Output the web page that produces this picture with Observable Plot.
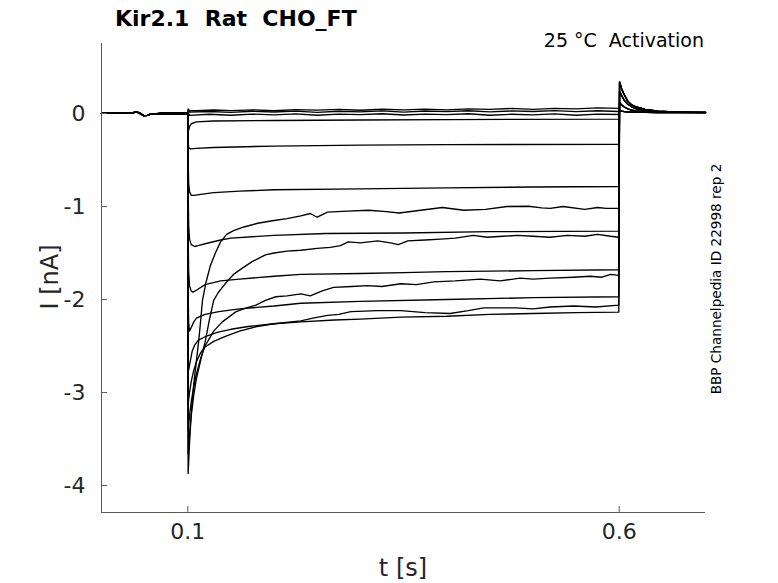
<!DOCTYPE html>
<html>
<head>
<meta charset="utf-8">
<script src="https://cdn.jsdelivr.net/npm/d3@7"></script>
<script src="https://cdn.jsdelivr.net/npm/@observablehq/plot@0.6"></script>
<style>
  body { margin: 0; background: #fff; }
  #wrap { position: relative; width: 778px; height: 583px; font-family: "DejaVu Sans", sans-serif; color: #000; }
  .lbl { position: absolute; line-height: 1; white-space: nowrap; }
  #chart svg { display: block; }
</style>
</head>
<body>
<div id="wrap">
  <div id="chart"></div>
  <div class="lbl" id="title" style="left:115px; top:8px; font-size:22px; font-weight:bold;">Kir2.1&nbsp;&nbsp;Rat&nbsp;&nbsp;CHO_FT</div>
  <div class="lbl" id="sub" style="right:74px; top:31px; font-size:19px;">25 °C&nbsp;&nbsp;Activation</div>
  <div class="lbl" id="side" style="left:716.5px; top:279px; font-size:13.6px; transform: translate(-50%,-50%) rotate(-90deg);">BBP Channelpedia ID 22998 rep 2</div>
  <div class="lbl" id="ylab" style="left:50px; top:277px; font-size:24px; color:#262626; transform: translate(-50%,-50%) rotate(-90deg);">I [nA]</div>
  <div class="lbl" id="xlab" style="left:403px; top:556px; font-size:24px; color:#262626; transform: translateX(-50%);">t [s]</div>
</div>
<script>
// ---------- data ----------
const xDomain = [0, 0.7];
const yDomain = [-4.29, 0.753];
const xTicks = [0.1, 0.6];
const xTickLabels = ["0.1", "0.6"];
const yTicks = [0, -1, -2, -3, -4];
const yTickLabels = ["0", "-1", "-2", "-3", "-4"];

// holding period before the step (shared by all sweeps)
const baselineT = [0, 0.02, 0.036, 0.04, 0.044, 0.049, 0.053, 0.058, 0.07, 0.085, 0.0998];
const baselineI = [0.003, 0.002, 0.004, 0.02, 0.004, -0.022, -0.02, -0.004, 0.0, 0.002, 0.0];

// tail currents after the step back (t >= 0.6)
const tailT    = [0.6004, 0.603, 0.606, 0.61, 0.615, 0.62, 0.63, 0.645, 0.67, 0.7];
const tailHigh = [0.34, 0.26, 0.2, 0.13, 0.09, 0.07, 0.045, 0.025, 0.015, 0.012];
const tailMid  = [0.24, 0.19, 0.14, 0.1, 0.07, 0.05, 0.033, 0.02, 0.014, 0.012];
const tailLow  = [0.12, 0.09, 0.07, 0.05, 0.035, 0.027, 0.02, 0.015, 0.012, 0.01];
const tailZero = [0.03, 0.025, 0.02, 0.016, 0.014, 0.013, 0.012, 0.011, 0.01, 0.01];

// step-phase sweeps [t (s), I (nA)]
const sweepA = [[0.1,0],[0.1004,-3.87],[0.102,-3.55],[0.104,-3.22],[0.107,-2.9],[0.110,-2.66],[0.1127,-2.44],[0.115,-2.22],[0.117,-2.01],[0.121,-1.82],[0.126,-1.64],[0.132,-1.5],[0.138,-1.38],[0.145,-1.3],[0.153,-1.26],[0.165,-1.22],[0.181,-1.18],[0.2,-1.15],[0.215,-1.13],[0.231,-1.10],[0.242,-1.075],[0.25,-1.115],[0.262,-1.06],[0.285,-1.05],[0.31,-1.04],[0.33,-1.055],[0.345,-1.07],[0.37,-1.04],[0.395,-1.01],[0.42,-1.04],[0.445,-1.03],[0.47,-1.0],[0.495,-0.997],[0.51,-1.015],[0.52,-1.02],[0.535,-1.0],[0.56,-1.03],[0.575,-1.01],[0.585,-1.02],[0.5995,-1.02]];
const sweepC = [[0.1,0],[0.1004,-3.66],[0.102,-3.45],[0.104,-3.25],[0.107,-3.02],[0.11,-2.85],[0.115,-2.65],[0.1205,-2.44],[0.125,-2.22],[0.130,-2.01],[0.135,-1.93],[0.14,-1.87],[0.147,-1.79],[0.153,-1.73],[0.162,-1.67],[0.175,-1.59],[0.19,-1.52],[0.2,-1.5],[0.215,-1.48],[0.231,-1.47],[0.25,-1.45],[0.265,-1.44],[0.277,-1.42],[0.286,-1.38],[0.3,-1.39],[0.32,-1.37],[0.335,-1.39],[0.344,-1.41],[0.355,-1.37],[0.375,-1.36],[0.393,-1.35],[0.41,-1.34],[0.431,-1.31],[0.447,-1.33],[0.465,-1.32],[0.482,-1.31],[0.5,-1.32],[0.52,-1.33],[0.54,-1.31],[0.56,-1.32],[0.575,-1.30],[0.59,-1.32],[0.5995,-1.33]];
const sweepE = [[0.1,0],[0.1004,-3.41],[0.102,-3.25],[0.104,-3.1],[0.107,-2.93],[0.11,-2.8],[0.115,-2.63],[0.12,-2.5],[0.13,-2.34],[0.14,-2.24],[0.156,-2.13],[0.168,-2.09],[0.179,-2.06],[0.19,-2.01],[0.202,-1.97],[0.215,-1.96],[0.231,-1.94],[0.242,-1.96],[0.255,-1.91],[0.269,-1.87],[0.29,-1.86],[0.308,-1.85],[0.325,-1.86],[0.347,-1.83],[0.365,-1.84],[0.385,-1.81],[0.41,-1.8],[0.439,-1.78],[0.462,-1.80],[0.485,-1.77],[0.5,-1.78],[0.52,-1.77],[0.547,-1.76],[0.566,-1.75],[0.58,-1.76],[0.59,-1.73],[0.5995,-1.74]];
const sweepG = [[0.1,0],[0.1004,-3.12],[0.102,-3.0],[0.104,-2.88],[0.107,-2.76],[0.11,-2.67],[0.115,-2.57],[0.12,-2.51],[0.13,-2.45],[0.145,-2.39],[0.16,-2.34],[0.18,-2.29],[0.2,-2.26],[0.231,-2.23],[0.245,-2.2],[0.262,-2.17],[0.275,-2.16],[0.289,-2.13],[0.32,-2.12],[0.347,-2.12],[0.375,-2.14],[0.404,-2.15],[0.425,-2.12],[0.443,-2.09],[0.48,-2.09],[0.5,-2.1],[0.52,-2.08],[0.547,-2.07],[0.573,-2.08],[0.5995,-2.06]];
const sweepH = [[0.1,0],[0.1004,-2.6],[0.101,-2.76],[0.1025,-2.68],[0.105,-2.56],[0.108,-2.49],[0.112,-2.44],[0.12,-2.4],[0.135,-2.35],[0.15,-2.32],[0.17,-2.29],[0.2,-2.26],[0.231,-2.24],[0.27,-2.22],[0.3,-2.21],[0.347,-2.19],[0.4,-2.18],[0.45,-2.16],[0.5,-2.15],[0.55,-2.14],[0.5995,-2.135]];
const sweepF = [[0.1,0],[0.1004,-1.9],[0.101,-2.25],[0.102,-2.34],[0.104,-2.3],[0.107,-2.24],[0.11,-2.2],[0.12,-2.16],[0.136,-2.13],[0.16,-2.1],[0.2,-2.07],[0.231,-2.04],[0.3,-2.02],[0.4,-2.0],[0.5,-1.98],[0.5995,-1.97]];
const sweepD = [[0.1,0],[0.1004,-1.3],[0.101,-1.7],[0.102,-1.85],[0.104,-1.91],[0.106,-1.92],[0.11,-1.9],[0.12,-1.84],[0.138,-1.8],[0.16,-1.78],[0.2,-1.75],[0.231,-1.73],[0.3,-1.72],[0.35,-1.71],[0.4,-1.70],[0.5,-1.69],[0.5995,-1.68]];
const sweepB3 = [[0.1,0],[0.1004,-0.8],[0.101,-1.2],[0.102,-1.35],[0.104,-1.41],[0.108,-1.43],[0.112,-1.42],[0.12,-1.4],[0.138,-1.36],[0.15,-1.34],[0.2,-1.31],[0.26,-1.29],[0.35,-1.285],[0.45,-1.27],[0.5995,-1.265]];
const sweepB2 = [[0.1,0],[0.1004,-0.5],[0.101,-0.75],[0.102,-0.84],[0.104,-0.88],[0.107,-0.88],[0.115,-0.87],[0.13,-0.85],[0.16,-0.835],[0.2,-0.82],[0.3,-0.81],[0.4,-0.80],[0.5,-0.79],[0.5995,-0.785]];
const sweepB1 = [[0.1,0],[0.1004,-0.3],[0.101,-0.37],[0.103,-0.38],[0.11,-0.375],[0.13,-0.365],[0.2,-0.35],[0.3,-0.34],[0.4,-0.335],[0.5995,-0.33]];
const sweepB0 = [[0.1,0],[0.1004,-0.12],[0.101,-0.18],[0.102,-0.14],[0.104,-0.11],[0.11,-0.09],[0.13,-0.08],[0.2,-0.075],[0.3,-0.07],[0.4,-0.065],[0.5995,-0.06]];
const sweepZ1 = [[0.1,0],[0.1004,0.05],[0.102,0.03],[0.11,0.03],[0.13,0.038],[0.15,0.032],[0.175,0.04],[0.2,0.03],[0.225,0.042],[0.25,0.036],[0.275,0.044],[0.3,0.035],[0.325,0.046],[0.35,0.04],[0.375,0.048],[0.4,0.04],[0.425,0.05],[0.45,0.045],[0.475,0.055],[0.5,0.045],[0.525,0.056],[0.55,0.05],[0.575,0.06],[0.5995,0.055]];
const sweepZ2 = [[0.1,0],[0.1004,0.03],[0.102,0.015],[0.125,0.022],[0.15,0.012],[0.175,0.024],[0.2,0.016],[0.225,0.026],[0.25,0.012],[0.275,0.024],[0.3,0.018],[0.325,0.028],[0.35,0.015],[0.375,0.027],[0.4,0.02],[0.425,0.03],[0.45,0.018],[0.475,0.028],[0.5,0.022],[0.525,0.032],[0.55,0.02],[0.575,0.03],[0.5995,0.022]];
const sweepZ3 = [[0.1,0],[0.1004,0.01],[0.102,-0.02],[0.125,-0.008],[0.15,-0.018],[0.175,-0.006],[0.2,-0.014],[0.225,-0.004],[0.25,-0.018],[0.275,-0.006],[0.3,-0.012],[0.325,-0.002],[0.35,-0.016],[0.375,-0.006],[0.4,-0.012],[0.425,-0.002],[0.45,-0.018],[0.475,-0.008],[0.5,-0.014],[0.525,-0.004],[0.55,-0.018],[0.575,-0.006],[0.5995,-0.01]];

const sweeps = [
  ["Z1", sweepZ1, tailZero], ["Z2", sweepZ2, tailZero], ["Z3", sweepZ3, tailZero],
  ["B0", sweepB0, tailZero], ["B1", sweepB1, tailLow], ["B2", sweepB2, tailLow],
  ["B3", sweepB3, tailLow], ["D", sweepD, tailMid], ["F", sweepF, tailMid],
  ["H", sweepH, tailMid], ["G", sweepG, tailHigh], ["E", sweepE, tailHigh],
  ["C", sweepC, tailHigh], ["A", sweepA, tailHigh]
];

// ---------- build rows ----------
const rows = [];
for (const [name, step, tail] of sweeps) {
  baselineT.forEach((t, k) => rows.push({sweep: name, t, i: baselineI[k]}));
  step.forEach(([t, i]) => rows.push({sweep: name, t, i}));
  tailT.forEach((t, k) => rows.push({sweep: name, t, i: tail[k]}));
}

// ---------- layout ----------
const W = 778, H = 583;
const mL = 101, mR = 73, mT = 43, mB = 71;
const innerW = W - mL - mR, innerH = H - mT - mB;
const tickLen = 6;
const axisColor = "#5a5a5a";
const textColor = "#262626";

const chart = Plot.plot({
  width: W, height: H,
  marginLeft: mL, marginRight: mR, marginTop: mT, marginBottom: mB,
  style: {fontFamily: "DejaVu Sans, sans-serif", background: "white", overflow: "visible"},
  x: {domain: xDomain},
  y: {domain: yDomain},
  marks: [
    Plot.line(rows, {x: "t", y: "i", z: "sweep", stroke: "black", strokeWidth: 1.35, strokeLinejoin: "round"}),
    // axis lines (left and bottom only)
    Plot.ruleX([xDomain[0]], {stroke: axisColor, strokeWidth: 1}),
    Plot.ruleY([yDomain[0]], {stroke: axisColor, strokeWidth: 1}),
    // inward ticks
    Plot.ruleX(xTicks, {stroke: axisColor, strokeWidth: 1, insetTop: innerH - tickLen}),
    Plot.ruleY(yTicks, {stroke: axisColor, strokeWidth: 1, insetRight: innerW - tickLen}),
    Plot.axisX({ticks: xTicks, tickSize: 0, tickPadding: 11, fontSize: 22, fill: textColor,
      tickFormat: d => xTickLabels[xTicks.indexOf(d)], label: null}),
    Plot.axisY({ticks: yTicks, tickSize: 0, tickPadding: 16, fontSize: 22, fill: textColor,
      tickFormat: d => yTickLabels[yTicks.indexOf(d)], label: null})
  ]
});
document.getElementById("chart").appendChild(chart);
</script>
</body>
</html>
